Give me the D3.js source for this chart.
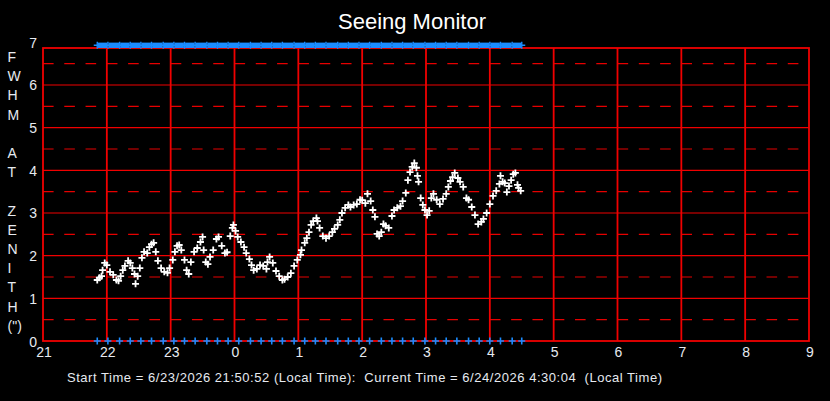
<!DOCTYPE html>
<html>
<head>
<meta charset="utf-8">
<script src="https://cdn.jsdelivr.net/npm/d3@7"></script>
<style>
    body { margin: 0; background: #000; }
    svg { display: block; font-family: "Liberation Sans", Arial, sans-serif; }
</style>
</head>
<body>
<script>
const fwhmTimes = [
    "21:51", "21:53", "21:55", "21:56", "21:58", "22:00", "22:03", "22:06", "22:09", "22:11",
    "22:13", "22:15", "22:17", "22:20", "22:22", "22:24", "22:26", "22:27", "22:29", "22:31",
    "22:33", "22:35", "22:38", "22:40", "22:42", "22:44", "22:46", "22:48", "22:51", "22:54",
    "22:57", "22:59", "23:02", "23:04", "23:06", "23:08", "23:10", "23:13", "23:15", "23:17",
    "23:19", "23:22", "23:25", "23:28", "23:30", "23:31", "23:33", "23:35", "23:37", "23:40",
    "23:43", "23:45", "23:48", "23:51", "23:53", "23:56", "23:58", "23:59", "0:01", "0:03",
    "0:06", "0:09", "0:11", "0:14", "0:16", "0:18", "0:21", "0:24", "0:27", "0:30",
    "0:31", "0:33", "0:36", "0:39", "0:42", "0:45", "0:47", "0:50", "0:53", "0:56",
    "0:59", "1:02", "1:03", "1:06", "1:08", "1:10", "1:12", "1:14", "1:17", "1:18",
    "1:20", "1:23", "1:26", "1:29", "1:32", "1:34", "1:37", "1:39", "1:41", "1:44",
    "1:47", "1:49", "1:52", "1:55", "1:58", "2:00", "2:03", "2:05", "2:08", "2:10",
    "2:12", "2:14", "2:16", "2:18", "2:20", "2:22", "2:25", "2:28", "2:30", "2:33",
    "2:36", "2:38", "2:41", "2:43", "2:45", "2:47", "2:49", "2:51", "2:52", "2:53",
    "2:55", "2:57", "2:59", "3:01", "3:03", "3:05", "3:07", "3:10", "3:13", "3:16",
    "3:19", "3:21", "3:23", "3:25", "3:27", "3:30", "3:32", "3:35", "3:38", "3:40",
    "3:43", "3:46", "3:49", "3:52", "3:54", "3:57", "4:00", "4:03", "4:06", "4:09",
    "4:10", "4:12", "4:14", "4:16", "4:18", "4:20", "4:22", "4:24", "4:26", "4:27",
    "4:29"
];

const fwhmValues = [
    1.43, 1.48, 1.52, 1.66, 1.83, 1.78, 1.62, 1.55, 1.43, 1.41,
    1.52, 1.66, 1.76, 1.88, 1.83, 1.71, 1.57, 1.34, 1.52, 1.71,
    1.95, 2.09, 2.06, 2.20, 2.27, 2.30, 2.09, 1.88, 1.71, 1.62,
    1.60, 1.71, 1.90, 2.09, 2.23, 2.25, 2.13, 1.90, 1.66, 1.57,
    1.85, 2.09, 2.18, 2.32, 2.44, 2.13, 1.85, 1.80, 1.97, 2.13,
    2.39, 2.44, 2.23, 2.06, 2.08, 2.46, 2.65, 2.72, 2.58, 2.44,
    2.32, 2.20, 2.06, 1.92, 1.78, 1.66, 1.69, 1.78, 1.76, 1.69,
    1.85, 1.97, 1.83, 1.64, 1.52, 1.43, 1.45, 1.50, 1.59, 1.76,
    1.90, 2.02, 2.13, 2.30, 2.41, 2.55, 2.72, 2.81, 2.88, 2.81,
    2.65, 2.46, 2.41, 2.46, 2.55, 2.63, 2.72, 2.84, 3.00, 3.12,
    3.19, 3.14, 3.19, 3.21, 3.31, 3.30, 3.23, 3.45, 3.28, 3.07,
    2.91, 2.51, 2.46, 2.55, 2.74, 2.70, 2.65, 2.93, 3.07, 3.12,
    3.16, 3.28, 3.47, 3.77, 3.96, 4.08, 4.17, 4.06, 3.87, 3.73,
    3.35, 3.19, 3.07, 2.95, 3.05, 3.35, 3.45, 3.31, 3.21, 3.33,
    3.45, 3.61, 3.75, 3.84, 3.94, 3.82, 3.73, 3.61, 3.35, 3.31,
    3.14, 2.95, 2.74, 2.79, 2.86, 3.00, 3.21, 3.40, 3.52, 3.68,
    3.87, 3.73, 3.70, 3.49, 3.63, 3.77, 3.91, 3.94, 3.66, 3.59,
    3.52
];

// blue acquisition markers (top and bottom rows)
const markerTimes = [
    "21:51", "22:01", "22:12", "22:22", "22:32", "22:42", "22:53", "23:03", "23:13", "23:23",
    "23:34", "23:44", "23:54", "0:04", "0:15", "0:25", "0:35", "0:45", "0:56", "1:06",
    "1:16", "1:26", "1:37", "1:47", "1:57", "2:07", "2:18", "2:28", "2:38", "2:48",
    "2:59", "3:09", "3:19", "3:29", "3:40", "3:50", "4:00", "4:10", "4:21", "4:30"
];

const xTicks = [21, 22, 23, 24, 25, 26, 27, 28, 29, 30, 31, 32, 33];
const yTicks = [0, 1, 2, 3, 4, 5, 6, 7];
const yHalf = [0.5, 1.5, 2.5, 3.5, 4.5, 5.5, 6.5];
const yTitle = ["F", "W", "H", "M", "", "A", "T", "", "Z", "E", "N", "I", "T", "H", "(\")"];

const titleText = "Seeing Monitor";
const footText = "Start Time = 6/23/2026 21:50:52 (Local Time):  Current Time = 6/24/2026 4:30:04  (Local Time)";

const width = 830;
const height = 401;
const plot = { left: 43, right: 809, top: 48, bottom: 341 };
const textColor = "#e6eaf0";
const blue = "#1a8cff";

function toHours(s) {
    const p = s.split(":");
    let h = +p[0] + (+p[1]) / 60;
    if (h < 12) h += 24;
    return h;
}

const points = fwhmTimes.map((t, i) => ({ t: toHours(t), v: fwhmValues[i] }));
const markers = markerTimes.map(toHours);

const x = d3.scaleLinear().domain([21, 33]).range([plot.left, plot.right]);
const y = d3.scaleLinear().domain([0, 7]).range([plot.bottom, plot.bottom - 7 * 42.67]);

const svg = d3.select("body").append("svg")
    .attr("width", width)
    .attr("height", height);

svg.append("rect")
    .attr("width", width)
    .attr("height", height)
    .attr("fill", "#000");

svg.append("text")
    .attr("x", 412)
    .attr("y", 29)
    .attr("text-anchor", "middle")
    .style("font-size", "22px")
    .attr("fill", "#fff")
    .text(titleText);

// grid
const grid = svg.append("g");

grid.selectAll(".hdash")
    .data(yHalf)
    .join("line")
    .attr("x1", plot.left)
    .attr("x2", plot.right)
    .attr("y1", d => y(d))
    .attr("y2", d => y(d))
    .attr("stroke", "#e60000")
    .attr("stroke-width", 1.2)
    .attr("stroke-dasharray", "10.6,10.68");

grid.selectAll(".hline")
    .data(yTicks.filter(d => d > 0 && d < 7))
    .join("line")
    .attr("x1", plot.left)
    .attr("x2", plot.right)
    .attr("y1", d => y(d))
    .attr("y2", d => y(d))
    .attr("stroke", "#f00000")
    .attr("stroke-width", 1.2);

grid.selectAll(".vline")
    .data(xTicks.slice(1, -1))
    .join("line")
    .attr("x1", d => x(d))
    .attr("x2", d => x(d))
    .attr("y1", plot.top)
    .attr("y2", plot.bottom)
    .attr("stroke", "#f00000")
    .attr("stroke-width", 1.8);

grid.append("rect")
    .attr("x", plot.left)
    .attr("y", plot.top)
    .attr("width", plot.right - plot.left)
    .attr("height", plot.bottom - plot.top)
    .attr("fill", "none")
    .attr("stroke", "#f00000")
    .attr("stroke-width", 1.8);

// axis labels
svg.append("g")
    .selectAll("text")
    .data(xTicks)
    .join("text")
    .attr("x", d => x(d) + 1)
    .attr("y", 357)
    .attr("text-anchor", "middle")
    .attr("fill", textColor)
    .style("font-size", "14px")
    .text(d => d % 24);

svg.append("g")
    .selectAll("text")
    .data(yTicks)
    .join("text")
    .attr("x", 37)
    .attr("y", d => y(d) + 5.5)
    .attr("text-anchor", "end")
    .attr("fill", textColor)
    .style("font-size", "14px")
    .text(d => d);

svg.append("g")
    .selectAll("text")
    .data(yTitle)
    .join("text")
    .attr("x", 7.5)
    .attr("y", (d, i) => 62 + i * 19.2)
    .attr("fill", textColor)
    .style("font-size", "14px")
    .text(d => d);

svg.append("text")
    .attr("x", 67)
    .attr("y", 382)
    .attr("fill", textColor)
    .style("font-size", "13px")
    .attr("textLength", 595)
    .attr("lengthAdjust", "spacing")
    .attr("xml:space", "preserve")
    .style("white-space", "pre")
    .text(footText);

const plus = "M-3.5,0H3.5M0,-3.5V3.5";

// top row of blue blocks between markers
svg.append("g")
    .selectAll("rect")
    .data(d3.pairs(markers))
    .join("rect")
    .attr("x", d => x(d[0]) + 0.6)
    .attr("y", y(7) + 0.3)
    .attr("width", d => x(d[1]) - x(d[0]) - 1.2)
    .attr("height", plot.top - y(7) - 0.3)
    .attr("fill", blue);

svg.append("g")
    .selectAll("path")
    .data(markers)
    .join("path")
    .attr("d", plus)
    .attr("transform", d => `translate(${x(d)},${y(7) + 3})`)
    .attr("stroke", blue)
    .attr("stroke-width", 1.4)
    .attr("fill", "none");

svg.append("g")
    .selectAll("path")
    .data(markers)
    .join("path")
    .attr("d", plus)
    .attr("transform", d => `translate(${x(d)},${y(0)})`)
    .attr("stroke", blue)
    .attr("stroke-width", 1.6)
    .attr("fill", "none");

// seeing samples
svg.append("g")
    .selectAll("path")
    .data(points)
    .join("path")
    .attr("d", plus)
    .attr("transform", d => `translate(${x(d.t)},${y(d.v)})`)
    .attr("stroke", "#fff")
    .attr("stroke-width", 1.8)
    .attr("fill", "none");
</script>
</body>
</html>
